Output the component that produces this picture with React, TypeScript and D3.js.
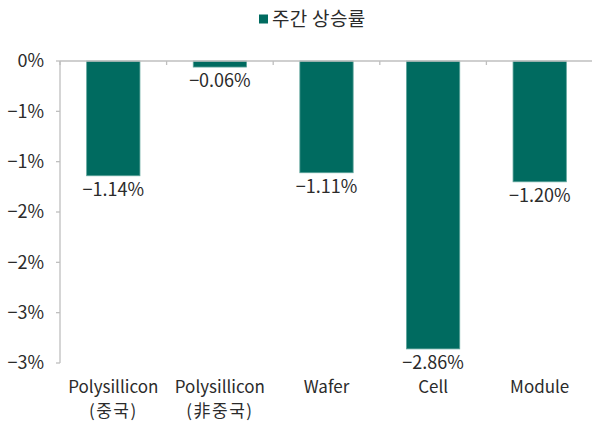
import React from "react";
import * as d3 from "d3";

const categories: string[][] = [
  ["Polysillicon", "(중국)"],
  ["Polysillicon", "(非중국)"],
  ["Wafer"],
  ["Cell"],
  ["Module"],
];
const values: number[] = [-1.14, -0.06, -1.11, -2.86, -1.2];
const tickValues: number[] = [0, -0.5, -1, -1.5, -2, -2.5, -3];
const tickLabels: string[] = ["0%", "−1%", "−1%", "−2%", "−2%", "−3%", "−3%"];
const seriesName = "주간 상승률";

const W = 592;
const H = 425;
const FONT = "'Noto Sans CJK KR', 'Noto Sans', sans-serif";
const TEXT = "#2b2b2b";
const BAR = "#006b60";
const AXIS = "#bfbfbf";

export default function App() {
  const left = 60;
  const right = 593;
  const y = d3.scaleLinear().domain([-3, 0]).range([363, 61]);
  const x = d3
    .scaleBand<number>()
    .domain(d3.range(categories.length))
    .range([left, right])
    .paddingInner(0.5)
    .paddingOuter(0.25);
  const bandStep = (right - left) / categories.length;
  const fmt = (v: number) => (v < 0 ? "−" : "") + Math.abs(v).toFixed(2) + "%";

  return (
    <svg
      width={W}
      height={H}
      style={{ position: "absolute", left: 0, top: 0, fontFamily: FONT }}
    >
      <rect x={0} y={0} width={W} height={H} fill="#fff" />
      {/* legend */}
      <rect x={259} y={14.5} width={9} height={9} fill={BAR} />
      <text x={272} y={25.5} fontSize={19} fill={TEXT} letterSpacing={0.3}>
        {seriesName}
      </text>

      {/* y axis */}
      <line x1={left} x2={left} y1={y(0)} y2={y(-3)} stroke={AXIS} strokeWidth={1.3} />
      {tickValues.map((t, i) => (
        <g key={i}>
          <line x1={left - 4} x2={left} y1={y(t)} y2={y(t)} stroke={AXIS} strokeWidth={1.3} />
          <text
            x={44}
            y={y(t)}
            dy="0.35em"
            textAnchor="end"
            fontSize={18}
            fill={TEXT}
          >
            {tickLabels[i]}
          </text>
        </g>
      ))}

      {/* bars */}
      {values.map((v, i) => {
        const bx = x(i)!;
        const bw = x.bandwidth();
        const y0 = y(0);
        const y1 = y(v);
        return (
          <g key={i}>
            <rect
              x={bx}
              y={y0}
              width={bw}
              height={y1 - y0}
              fill={BAR}
              stroke="#5fa59c"
              strokeWidth={0.8}
            />
            <text
              x={bx + bw / 2}
              y={y1 + 20}
              textAnchor="middle"
              fontSize={18}
              fill={TEXT}
            >
              {fmt(v)}
            </text>
          </g>
        );
      })}

      {/* x axis line at zero */}
      <line x1={left} x2={W} y1={y(0)} y2={y(0)} stroke={AXIS} strokeWidth={1.3} />
      {d3.range(categories.length + 1).map((i) => (
        <line
          key={i}
          x1={left + i * bandStep}
          x2={left + i * bandStep}
          y1={y(0)}
          y2={y(0) + 4}
          stroke={AXIS}
          strokeWidth={1.3}
        />
      ))}

      {/* category labels */}
      {categories.map((lines, i) => {
        const cx = x(i)! + x.bandwidth() / 2;
        return (
          <text key={i} x={cx} textAnchor="middle" fontSize={17} fill={TEXT}>
            {lines.map((l, j) => (
              <tspan key={j} x={cx} y={393 + j * 24} letterSpacing={j === 1 ? 1.5 : 0}>
                {l}
              </tspan>
            ))}
          </text>
        );
      })}
    </svg>
  );
}
